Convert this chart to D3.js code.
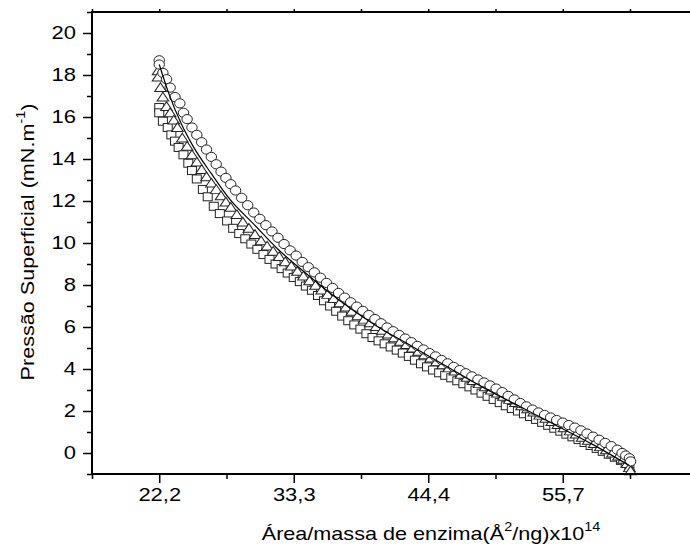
<!DOCTYPE html>
<html>
<head>
<meta charset="utf-8">
<script src="https://cdn.jsdelivr.net/npm/d3@7"></script>
<style>
body { margin: 0; background: #fff; }
svg { display: block; font-family: "Liberation Sans", Arial, sans-serif; }
</style>
</head>
<body>
<div id="container"></div>
<script>
///data
const circleArea = [22.2, 22.2, 22.5, 22.8, 23.1, 23.5, 23.9, 24.2, 24.5, 24.9, 25.3, 25.7, 26.1, 26.5, 26.9, 27.3, 27.7, 28.1, 28.5, 29.0, 29.5, 30.0, 30.5, 31.0, 31.5, 32.0, 32.5, 33.0, 33.5, 34.0, 34.5, 35.0, 35.5, 36.0, 36.5, 37.0, 37.5, 38.0, 38.5, 39.0, 39.5, 40.0, 40.5, 41.0, 41.5, 42.0, 42.5, 43.0, 43.5, 44.0, 44.5, 45.0, 45.5, 46.0, 46.5, 47.0, 47.5, 48.0, 48.5, 49.0, 49.5, 50.0, 50.5, 51.0, 51.5, 52.0, 52.5, 53.0, 53.5, 54.0, 54.5, 55.0, 55.5, 56.0, 56.5, 57.0, 57.5, 58.0, 58.5, 59.0, 59.5, 60.0, 60.4, 60.7, 61.0, 61.1];
const circlePressure = [18.7, 18.5, 18.1, 17.8, 17.4, 16.95, 16.65, 16.2, 15.9, 15.5, 15.15, 14.8, 14.45, 14.1, 13.75, 13.4, 13.1, 12.8, 12.5, 12.15, 11.8, 11.45, 11.15, 10.85, 10.55, 10.25, 9.95, 9.65, 9.4, 9.1, 8.85, 8.6, 8.35, 8.1, 7.86, 7.62, 7.4, 7.18, 6.97, 6.77, 6.57, 6.38, 6.18, 5.98, 5.8, 5.62, 5.45, 5.28, 5.1, 4.93, 4.76, 4.6, 4.43, 4.27, 4.1, 3.95, 3.8, 3.65, 3.5, 3.36, 3.22, 3.07, 2.9, 2.72, 2.55, 2.38, 2.22, 2.07, 1.93, 1.81, 1.69, 1.57, 1.45, 1.33, 1.21, 1.08, 0.93, 0.78, 0.63, 0.48, 0.33, 0.16, 0.0, -0.12, -0.25, -0.4];

const triangleArea = [22.1, 22.1, 22.3, 22.5, 22.8, 23.1, 23.4, 23.7, 24.1, 24.5, 24.9, 25.3, 25.7, 26.1, 26.5, 26.9, 27.3, 27.7, 28.1, 28.6, 29.1, 29.6, 30.1, 30.6, 31.1, 31.6, 32.1, 32.6, 33.1, 33.6, 34.1, 34.6, 35.1, 35.6, 36.1, 36.6, 37.1, 37.6, 38.1, 38.6, 39.1, 39.6, 40.1, 40.6, 41.1, 41.6, 42.1, 42.6, 43.1, 43.6, 44.1, 44.6, 45.1, 45.6, 46.1, 46.6, 47.1, 47.6, 48.1, 48.6, 49.1, 49.6, 50.1, 50.6, 51.1, 51.6, 52.1, 52.6, 53.1, 53.6, 54.1, 54.6, 55.1, 55.6, 56.1, 56.6, 57.1, 57.6, 58.1, 58.6, 59.1, 59.6, 60.1, 60.5, 60.8, 61.0, 61.1];
const trianglePressure = [18.2, 17.9, 17.4, 16.95, 16.5, 16.2, 15.85, 15.5, 15.0, 14.6, 14.2, 13.85, 13.5, 13.15, 12.85, 12.55, 12.25, 11.95, 11.7, 11.35, 11.0, 10.7, 10.4, 10.1, 9.85, 9.6, 9.35, 9.1, 8.9, 8.65, 8.42, 8.2, 7.98, 7.76, 7.55, 7.35, 7.15, 6.95, 6.75, 6.55, 6.37, 6.2, 6.02, 5.84, 5.66, 5.48, 5.32, 5.16, 5.0, 4.84, 4.68, 4.52, 4.36, 4.2, 4.05, 3.9, 3.75, 3.6, 3.45, 3.3, 3.15, 3.0, 2.85, 2.7, 2.55, 2.4, 2.25, 2.1, 1.95, 1.8, 1.65, 1.5, 1.35, 1.2, 1.05, 0.9, 0.75, 0.6, 0.45, 0.3, 0.15, 0.0, -0.15, -0.3, -0.5, -0.7, -0.85];

const squareArea = [22.2, 22.2, 22.5, 22.9, 23.2, 23.5, 23.8, 24.2, 24.6, 24.9, 25.3, 25.8, 26.2, 26.7, 27.2, 27.8, 28.3, 28.8, 29.3, 29.8, 30.3, 30.8, 31.3, 31.8, 32.3, 32.8, 33.3, 33.8, 34.3, 34.8, 35.3, 35.8, 36.3, 36.8, 37.3, 37.8, 38.3, 38.8, 39.3, 39.8, 40.3, 40.8, 41.3, 41.8, 42.3, 42.8, 43.3, 43.8, 44.3, 44.8, 45.3, 45.8, 46.3, 46.8, 47.3, 47.8, 48.3, 48.8, 49.3, 49.8, 50.3, 50.8, 51.3, 51.8, 52.3, 52.8, 53.3, 53.8, 54.3, 54.8, 55.3, 55.8, 56.3, 56.8, 57.3, 57.8, 58.3, 58.8, 59.3, 59.8, 60.3, 60.7, 61.0];
const squarePressure = [16.45, 16.2, 15.8, 15.5, 15.15, 14.85, 14.55, 14.2, 13.8, 13.45, 13.05, 12.55, 12.2, 11.75, 11.4, 11.05, 10.7, 10.45, 10.2, 9.95, 9.7, 9.45, 9.22, 9.0, 8.78, 8.57, 8.36, 8.16, 7.95, 7.75, 7.5, 7.25, 7.0, 6.75, 6.52, 6.3, 6.1, 5.9, 5.68, 5.5, 5.34, 5.2, 5.05, 4.9, 4.76, 4.6, 4.42, 4.25, 4.1, 3.95, 3.82, 3.7, 3.58, 3.44, 3.3, 3.15, 3.0, 2.85, 2.7, 2.55, 2.4, 2.25, 2.12, 2.0, 1.87, 1.74, 1.6, 1.46, 1.32, 1.18, 1.04, 0.9, 0.77, 0.64, 0.5, 0.36, 0.22, 0.08, -0.06, -0.2, -0.35, -0.5, -0.65];

// ajuste (linha continua)
const fitArea = [22.2, 23.0, 24.0, 25.0, 26.5, 28.0, 30.0, 32.0, 34.0, 37.0, 40.0, 43.0, 46.0, 49.0, 52.0, 55.0, 58.0, 61.0];
const fitPressure = [18.5, 17.1, 15.7, 14.6, 13.3, 12.1, 10.9, 9.7, 8.7, 7.3, 6.1, 5.1, 4.1, 3.1, 2.2, 1.3, 0.4, -0.6];

const xTickValues = [22.2, 33.3, 44.4, 55.5];
const xTickLabels = ["22,2", "33,3", "44,4", "55,7"];
const xMinorValues = [16.65, 27.75, 38.85, 49.95, 61.05];
const yTickValues = [0, 2, 4, 6, 8, 10, 12, 14, 16, 18, 20];
const yMinorValues = [-1, 1, 3, 5, 7, 9, 11, 13, 15, 17, 19, 21];

///vars
const w = 690, h = 554;
const padLeft = 92, padRight = 692, padTop = 12, padBottom = 474;
const stretch = 1.22; // glyphs are wider than tall in the picture

const svg = d3.select("#container").append("svg")
  .attr("width", w).attr("height", h);

const x = d3.scaleLinear().domain([16.65, 16.65 + 600 / 12.117]).range([padLeft, padRight]);
const y = d3.scaleLinear().domain([-1, 21]).range([padBottom, padTop]);

const zip = (a, b) => a.map((v, i) => [v, b[i]]);

///marks
const g = svg.append("g");

// squares
g.append("g").selectAll("rect")
  .data(zip(squareArea, squarePressure))
  .join("rect")
  .attr("x", d => x(d[0]) - 4.5)
  .attr("y", d => y(d[1]) - 4)
  .attr("width", 9).attr("height", 8)
  .attr("fill", "white").attr("stroke", "#222").attr("stroke-width", 1);

// triangles
const tri = d3.symbol().type(d3.symbolTriangle).size(44);
g.append("g").selectAll("path")
  .data(zip(triangleArea, trianglePressure))
  .join("path")
  .attr("d", tri)
  .attr("transform", d => "translate(" + x(d[0]) + "," + (y(d[1]) + 1) + ") scale(1.15,1)")
  .attr("fill", "white").attr("stroke", "#222").attr("stroke-width", 0.95);

// circles
g.append("g").selectAll("ellipse")
  .data(zip(circleArea, circlePressure))
  .join("ellipse")
  .attr("cx", d => x(d[0]))
  .attr("cy", d => y(d[1]))
  .attr("rx", 5.2).attr("ry", 4.6)
  .attr("fill", "white").attr("stroke", "#222").attr("stroke-width", 1);

// line
g.append("path")
  .datum(zip(fitArea, fitPressure))
  .attr("fill", "none").attr("stroke", "black").attr("stroke-width", 1.2)
  .attr("d", d3.line().x(d => x(d[0])).y(d => y(d[1])).curve(d3.curveMonotoneX));

///axes
const xAxis = d3.axisBottom(x).tickValues(xTickValues).tickSize(9).tickPadding(5)
  .tickFormat((d, i) => xTickLabels[i]);
svg.append("g").attr("class", "xax").attr("transform", "translate(0," + padBottom + ")").call(xAxis);
svg.append("g").attr("transform", "translate(0," + padBottom + ")")
  .call(d3.axisBottom(x).tickValues(xMinorValues).tickSize(5).tickFormat(""));

const yAxis = d3.axisLeft(y).tickValues(yTickValues).tickSize(9).tickPadding(5);
svg.append("g").attr("class", "yax").attr("transform", "translate(" + padLeft + ",0)").call(yAxis);
svg.append("g").attr("transform", "translate(" + padLeft + ",0)")
  .call(d3.axisLeft(y).tickValues(yMinorValues).tickSize(5).tickFormat(""));

// top axis
svg.append("g").attr("transform", "translate(0," + padTop + ")")
  .call(d3.axisTop(x).tickValues(xTickValues.concat(xMinorValues)).tickSize(3).tickFormat(""));

svg.selectAll(".domain").remove();
svg.selectAll(".tick line").attr("stroke", "black").attr("stroke-width", 1.5);
svg.selectAll(".tick text").attr("font-size", 18).attr("fill", "black")
  .attr("font-family", "'Liberation Sans', Arial, sans-serif");
svg.selectAll(".xax .tick text").attr("transform", "scale(" + stretch + ",1)");
svg.selectAll(".yax .tick text").attr("x", -16 / stretch).attr("transform", "scale(" + stretch + ",1)");

// frame lines
svg.append("line").attr("x1", padLeft).attr("x2", padRight).attr("y1", padTop).attr("y2", padTop)
  .attr("stroke", "black").attr("stroke-width", 2);
svg.append("line").attr("x1", padLeft - 1).attr("x2", padRight).attr("y1", padBottom).attr("y2", padBottom)
  .attr("stroke", "black").attr("stroke-width", 2);
svg.append("line").attr("x1", padLeft).attr("x2", padLeft).attr("y1", padTop - 1).attr("y2", padBottom)
  .attr("stroke", "black").attr("stroke-width", 2);

///titles
const xt = svg.append("text")
  .attr("transform", "translate(431,540) scale(1.2,1)")
  .attr("text-anchor", "middle")
  .attr("font-size", 18).attr("fill", "black");
xt.append("tspan").text("Área/massa de enzima(Å");
xt.append("tspan").text("2").attr("font-size", 12).attr("dy", -9);
xt.append("tspan").text("/ng)x10").attr("dy", 9);
xt.append("tspan").text("14").attr("font-size", 12).attr("dy", -9);

const yt = svg.append("text")
  .attr("transform", "translate(34,242) rotate(-90) scale(1.2,1)")
  .attr("text-anchor", "middle")
  .attr("font-size", 18).attr("fill", "black");
yt.append("tspan").text("Pressão Superficial (mN.m");
yt.append("tspan").text("-1").attr("font-size", 12).attr("dy", -9);
yt.append("tspan").text(")").attr("dy", 9);
</script>
</body>
</html>
